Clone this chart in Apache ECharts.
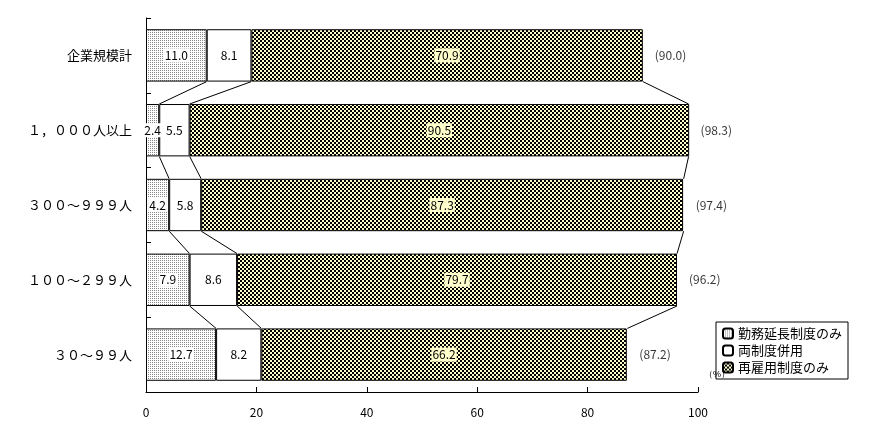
<!DOCTYPE html>
<html><head><meta charset="utf-8">
<script src="https://cdn.jsdelivr.net/npm/echarts@6/dist/echarts.min.js"></script>
<style>body{margin:0}#c{width:878px;height:438px}</style></head>
<body><div id="c"></div>
<script>
const categories = ['企業規模計', '１，０００人以上', '３００～９９９人', '１００～２９９人', '３０～９９人'];
const extension = [11.0, 2.4, 4.2, 7.9, 12.7];
const both = [8.1, 5.5, 5.8, 8.6, 8.2];
const reemploy = [70.9, 90.5, 87.3, 79.7, 66.2];
const totals = [90.0, 98.3, 97.4, 96.2, 87.2];
const xTicks = [0, 20, 40, 60, 80, 100];

function pattern(kind) {
  const c = document.createElement('canvas');
  c.width = 4; c.height = 4;
  const g = c.getContext('2d');
  g.fillStyle = '#fff'; g.fillRect(0, 0, 4, 4);
  g.fillStyle = '#000';
  if (kind === 'dots') {
    g.fillStyle = '#888';
    g.fillRect(0, 0, 1, 1); g.fillRect(2, 2, 1, 1); g.fillRect(2, 0, 1, 1); g.fillRect(0, 2, 1, 1);
  } else {
    g.fillRect(0, 0, 2, 2); g.fillRect(2, 2, 2, 2);
    g.fillStyle = '#ffffcc'; g.fillRect(2, 0, 2, 2); g.fillRect(0, 2, 2, 2);
  }
  return { image: c, repeat: 'repeat' };
}
const font = '"Noto Sans CJK JP", sans-serif';
const chart = echarts.init(document.getElementById('c'));

const connectors = [];
for (let i = 0; i < categories.length - 1; i++) {
  connectors.push([i, extension[i], extension[i + 1]]);
  connectors.push([i, extension[i] + both[i], extension[i + 1] + both[i + 1]]);
  connectors.push([i, totals[i], totals[i + 1]]);
}

function valLabel(bg) {
  return { show: true, position: 'inside', color: '#000', fontSize: 12, fontFamily: font,
    backgroundColor: bg, padding: [1, 1], formatter: p => p.value.toFixed(1) };
}

chart.setOption({
  animation: false,
  grid: { left: 146, right: 180, top: 18, bottom: 46 },
  xAxis: {
    type: 'value', min: 0, max: 100, interval: 20,
    name: '（%）', nameGap: 6, nameTextStyle: { fontSize: 9, verticalAlign: 'top', padding: [-22, 0, 0, 0] },
    axisLine: { show: true, lineStyle: { color: '#000' } },
    axisTick: { show: true, inside: true, length: 5, lineStyle: { color: '#000' } },
    axisLabel: { color: '#000', fontSize: 12, fontFamily: font, margin: 14,
      formatter: v => xTicks.includes(v) ? String(v) : '' },
    splitLine: { show: false }
  },
  yAxis: {
    type: 'category', data: categories, inverse: true,
    axisLine: { lineStyle: { color: '#000' } },
    axisTick: { show: true, length: 5, inside: true, lineStyle: { color: '#000' } },
    axisLabel: { color: '#000', fontSize: 13, fontFamily: font, margin: 14 }
  },
  legend: {
    orient: 'vertical', left: 716, top: 322, itemWidth: 10, itemHeight: 10, itemGap: 4,
    borderColor: '#000', borderWidth: 1, borderRadius: 0, padding: [5, 6],
    textStyle: { fontSize: 13, fontFamily: font, color: '#000' },
    data: ['勤務延長制度のみ', '両制度併用', '再雇用制度のみ']
  },
  series: [
    { name: '勤務延長制度のみ', type: 'bar', stack: 's', barWidth: '70%', data: extension,
      itemStyle: { color: pattern('dots'), borderColor: '#000', borderWidth: 1 }, label: valLabel('#fff') },
    { name: '両制度併用', type: 'bar', stack: 's', data: both,
      itemStyle: { color: '#fff', borderColor: '#000', borderWidth: 1 }, label: valLabel('#fff') },
    { name: '再雇用制度のみ', type: 'bar', stack: 's', data: reemploy,
      itemStyle: { color: pattern('check'), borderColor: '#000', borderWidth: 1 }, label: valLabel('#ffffcc') },
    { type: 'scatter', symbolSize: 0, data: totals.map((v, i) => [v, i]),
      label: { show: true, position: 'right', distance: 12, color: '#000', fontSize: 12, fontFamily: font,
        formatter: p => '(' + p.value[0].toFixed(1) + ')' } },
    { type: 'custom', data: connectors, silent: true,
      renderItem: (params, api) => {
        const i = api.value(0);
        const half = api.size([0, 1])[1] * 0.35;
        const a = api.coord([api.value(1), i]);
        const b = api.coord([api.value(2), i + 1]);
        return { type: 'line', shape: { x1: a[0], y1: a[1] + half, x2: b[0], y2: b[1] - half },
          style: { stroke: '#000', lineWidth: 1 } };
      } }
  ]
});
</script></body></html>
